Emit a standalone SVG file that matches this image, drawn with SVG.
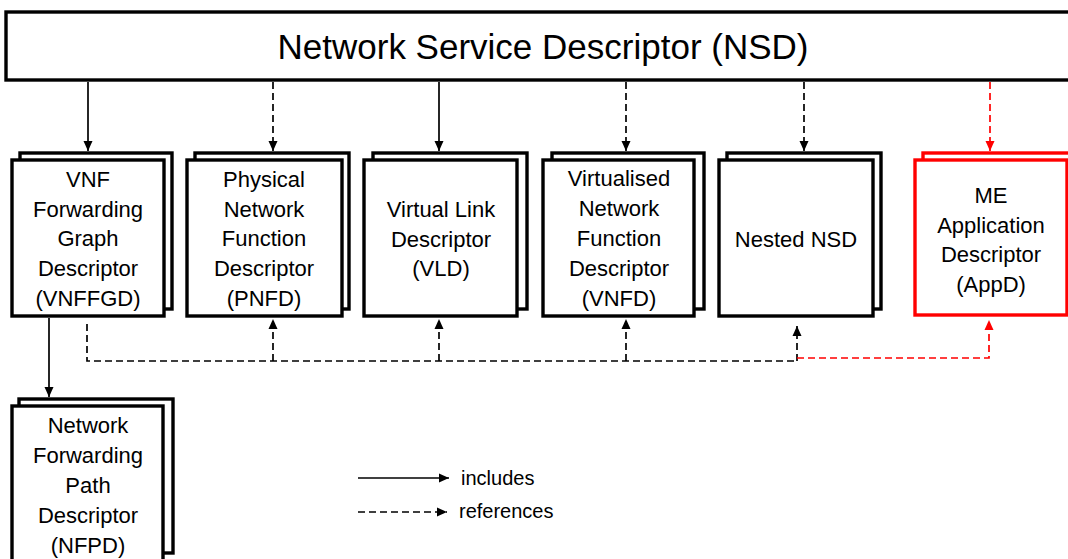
<svg xmlns="http://www.w3.org/2000/svg" width="1068" height="559" viewBox="0 0 1068 559">
<defs>
<style>
.box{fill:#fff;stroke:#000;stroke-width:3.4}
.red{stroke:#ff0000}
.t{font-family:"Liberation Sans",Arial,sans-serif;font-size:22px;fill:#000;text-anchor:middle}
.title{font-family:"Liberation Sans",Arial,sans-serif;font-size:35px;fill:#000;text-anchor:middle}
.lg{font-family:"Liberation Sans",Arial,sans-serif;font-size:20px;fill:#000}
.c{fill:none;stroke:#000;stroke-width:1.7}
.d{stroke-dasharray:7 4}
.cr{stroke:#ff0000}
</style>
<marker id="ah" viewBox="0 0 10 10" refX="10" refY="5" markerWidth="10" markerHeight="10" markerUnits="userSpaceOnUse" orient="auto"><path d="M0,0.5 L10,5 L0,9.5 z" fill="#000"/></marker>
<marker id="ahr" viewBox="0 0 10 10" refX="10" refY="5" markerWidth="10" markerHeight="10" markerUnits="userSpaceOnUse" orient="auto"><path d="M0,0.5 L10,5 L0,9.5 z" fill="#ff0000"/></marker>
</defs>
<rect width="1068" height="559" fill="#fff"/>

<g id="nsd">
<rect class="box" x="6" y="12" width="1070" height="68"/>
<text class="title" x="543" y="59">Network Service Descriptor (NSD)</text>
</g>

<g id="vnffgd">
<rect class="box" x="20" y="153" width="152" height="156"/>
<rect class="box" x="12" y="160" width="152" height="156"/>
<text class="t" x="88" y="187">VNF</text>
<text class="t" x="88" y="217">Forwarding</text>
<text class="t" x="88" y="246">Graph</text>
<text class="t" x="88" y="276">Descriptor</text>
<text class="t" x="88" y="306">(VNFFGD)</text>
</g>

<g id="pnfd">
<rect class="box" x="195" y="153" width="154" height="156"/>
<rect class="box" x="187" y="160" width="155" height="156"/>
<text class="t" x="264" y="187">Physical</text>
<text class="t" x="264" y="217">Network</text>
<text class="t" x="264" y="246">Function</text>
<text class="t" x="264" y="276">Descriptor</text>
<text class="t" x="264" y="306">(PNFD)</text>
</g>

<g id="vld">
<rect class="box" x="373" y="153" width="154" height="156"/>
<rect class="box" x="364" y="160" width="153" height="156"/>
<text class="t" x="441" y="217">Virtual Link</text>
<text class="t" x="441" y="247">Descriptor</text>
<text class="t" x="441" y="276">(VLD)</text>
</g>

<g id="vnfd">
<rect class="box" x="552" y="153" width="152" height="156"/>
<rect class="box" x="543" y="160" width="151" height="156"/>
<text class="t" x="619" y="186">Virtualised</text>
<text class="t" x="619" y="216">Network</text>
<text class="t" x="619" y="246">Function</text>
<text class="t" x="619" y="276">Descriptor</text>
<text class="t" x="619" y="306">(VNFD)</text>
</g>

<g id="nested-nsd">
<rect class="box" x="727" y="153" width="154" height="156"/>
<rect class="box" x="719" y="160" width="154" height="156"/>
<text class="t" x="796" y="247">Nested NSD</text>
</g>

<g id="appd">
<rect class="box red" x="923" y="153" width="152" height="156"/>
<rect class="box red" x="915" y="160" width="152" height="155"/>
<text class="t" x="991" y="203">ME</text>
<text class="t" x="991" y="233">Application</text>
<text class="t" x="991" y="262">Descriptor</text>
<text class="t" x="991" y="292">(AppD)</text>
</g>

<g id="nfpd">
<rect class="box" x="19" y="399" width="154" height="154"/>
<rect class="box" x="12" y="406" width="151" height="160"/>
<text class="t" x="88" y="433">Network</text>
<text class="t" x="88" y="463">Forwarding</text>
<text class="t" x="88" y="493">Path</text>
<text class="t" x="88" y="523">Descriptor</text>
<text class="t" x="88" y="553">(NFPD)</text>
</g>

<g id="connectors">
<path class="c" d="M88,82 V151" marker-end="url(#ah)"/>
<path class="c d" d="M273,82 V151" marker-end="url(#ah)"/>
<path class="c" d="M439,82 V151" marker-end="url(#ah)"/>
<path class="c d" d="M626,82 V151" marker-end="url(#ah)"/>
<path class="c d" d="M804,82 V151" marker-end="url(#ah)"/>
<path class="c d cr" d="M990,82 V151" marker-end="url(#ahr)"/>
<path class="c" d="M49,318 V397" marker-end="url(#ah)"/>
<path class="c d" d="M87,324 V361 H797"/>
<path class="c d" d="M273,361 V319" marker-end="url(#ah)"/>
<path class="c d" d="M439,361 V319" marker-end="url(#ah)"/>
<path class="c d" d="M626,361 V319" marker-end="url(#ah)"/>
<path class="c d" d="M797,361 V326" marker-end="url(#ah)"/>
<path class="c d cr" d="M797,358 H989 V320" marker-end="url(#ahr)"/>
</g>

<g id="legend">
<path class="c" d="M358,478 H449" marker-end="url(#ah)"/>
<text class="lg" x="461" y="485">includes</text>
<path class="c d" d="M358,512 H447" marker-end="url(#ah)"/>
<text class="lg" x="459" y="518">references</text>
</g>
</svg>
